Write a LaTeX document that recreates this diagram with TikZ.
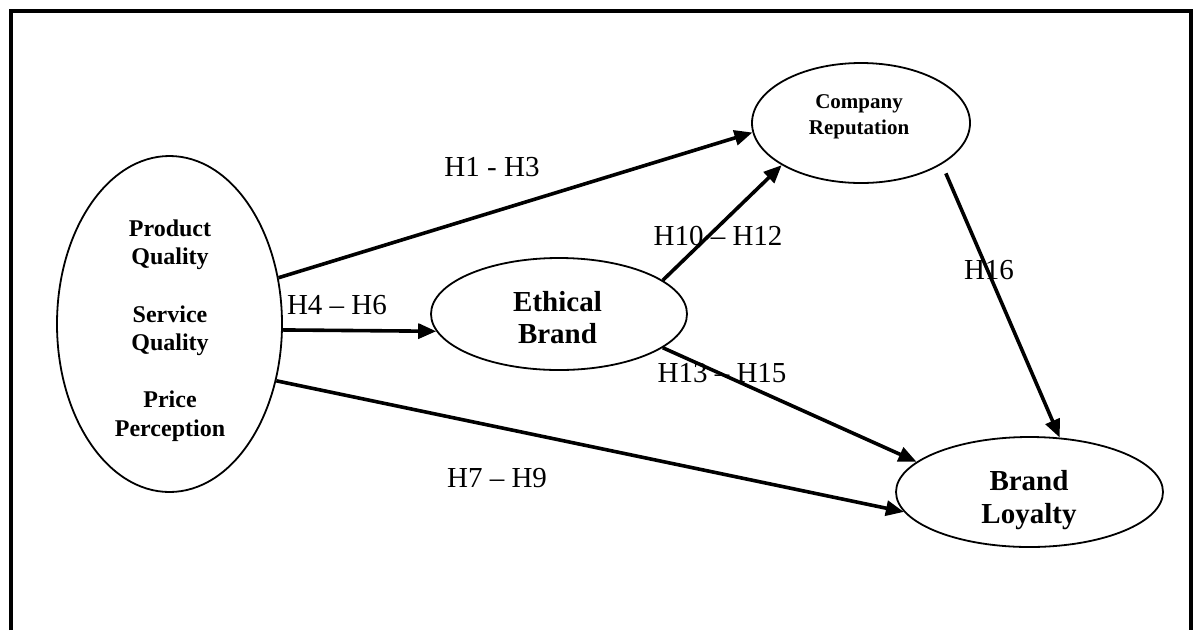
\documentclass[tikz,border=0pt]{standalone}
\usepackage{fontspec}
\setmainfont{Liberation Serif}
\usetikzlibrary{arrows.meta,shapes.geometric}
\begin{document}
\begin{tikzpicture}[x=1pt,y=-1pt,
  construct/.style={ellipse,draw,line width=1.8pt,inner sep=0pt},
  ctext/.style={align=center,inner sep=0pt},
  link/.style={line width=3.6pt,-{Triangle[length=18pt,width=15pt]}},
  hyp/.style={inner sep=0pt,font=\fontsize{29pt}{34pt}\selectfont}]
\useasboundingbox (0,0) rectangle (1198,630);
\draw[line width=4pt] (11.3,630) -- (11.3,10.7) -- (1190.5,10.7) -- (1190.5,630);

% constructs
\node[construct,minimum width=225pt,minimum height=336pt] (L) at (169.5,324) {};
\node[construct,minimum width=218pt,minimum height=120pt] (CR) at (861,123) {};
\node[construct,minimum width=256pt,minimum height=112pt] (EB) at (559,314) {};
\node[construct,minimum width=267pt,minimum height=110pt] (BL) at (1029.5,492) {};

\node[ctext,font=\fontsize{24pt}{28.6pt}\selectfont\bfseries] (Ltext) at (170,330.6)
  {Product\\Quality\\[28.6pt]Service\\Quality\\[28.6pt]Price\\Perception};
\node[ctext,font=\fontsize{21pt}{26pt}\selectfont\bfseries] (CRtext) at (859,117.2)
  {Company\\Reputation};
\node[ctext,font=\fontsize{29pt}{32pt}\selectfont\bfseries] (EBtext) at (557.5,317.2)
  {Ethical\\Brand};
\node[ctext,font=\fontsize{29pt}{33pt}\selectfont\bfseries] (BLtext) at (1029,499.9)
  {Brand\\Loyalty};

% hypothesis labels
\node[hyp] (h1) at (492,167) {H1 - H3};
\node[hyp] (h4) at (337,305) {H4 -- H6};
\node[hyp] (h7) at (497,478) {H7 -- H9};
\node[hyp] (h10) at (718,236) {H10 -- H12};
\node[hyp] (h13) at (722,373) {H13 -- H15};
\node[hyp] (h16) at (989,270) {H16};

% paths
\draw[link] (L.23.5) -- (CR.185);
\draw[link] (L.-3) -- (EB.188);
\draw[link] (L.-28.5) -- (BL.189.7);
\draw[link] (EB.18.2) -- (CR.208.5);
\draw[link] (EB.-18.7) -- (BL.165.3);
\draw[link,shorten <=10pt] (CR.-27.7) -- (BL.61.8);
\end{tikzpicture}
\end{document}
